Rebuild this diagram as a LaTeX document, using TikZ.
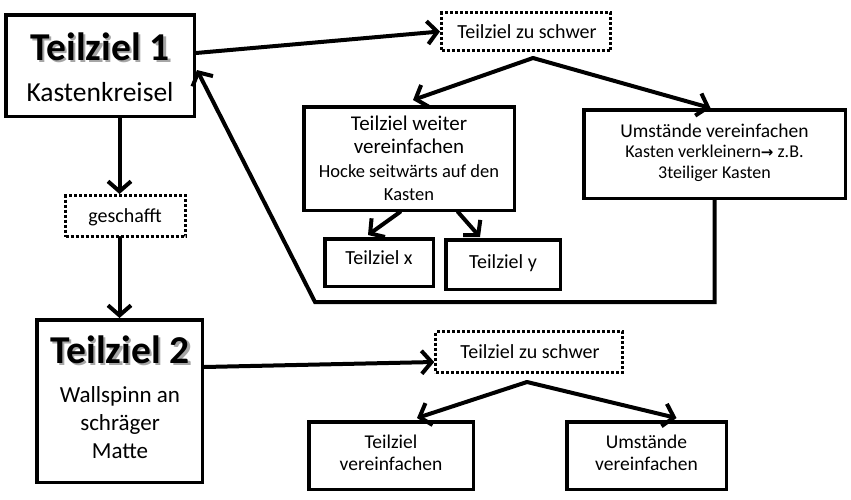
\documentclass[tikz,border=0pt]{standalone}
\usepackage{fontspec}
\setmainfont{Carlito}
\newfontfamily\dejavu{DejaVu Sans}
\usetikzlibrary{arrows.meta,calc}
\newcommand{\shadowtext}[1]{\makebox[0pt][l]{\hspace{2.5pt}\raisebox{-2.5pt}{\textcolor{black!35}{#1}}}#1}
\begin{document}
\begin{tikzpicture}[x=1pt,y=-1pt,
  box/.style={draw, line width=3.5pt, inner sep=0pt},
  dbox/.style={draw, line width=3pt, dash pattern=on 3pt off 2pt, inner sep=0pt},
  arr/.style={line width=4pt, line cap=round, -{Straight Barb[length=10pt,width=23pt]}},
  txt/.style={anchor=base, inner sep=0pt, font=\fontsize{20}{24}\selectfont},
  big/.style={anchor=base, inner sep=0pt, font=\fontsize{39.5}{46}\selectfont\bfseries}
]
\useasboundingbox (0,0) rectangle (851,499);

% boxes
\node[box, minimum width=188.5pt, minimum height=101.5pt] (t1) at (100,65.5) {};
\node[dbox, minimum width=120pt, minimum height=41pt] (gesch) at (125.5,216) {};
\node[box, minimum width=165.5pt, minimum height=162.5pt] (t2) at (119.5,401) {};
\node[dbox, minimum width=169pt, minimum height=38pt] (s1) at (526,31.5) {};
\node[box, minimum width=210.5pt, minimum height=103.5pt] (weiter) at (409,158.5) {};
\node[box, minimum width=261.5pt, minimum height=88.5pt] (umst) at (714.5,154) {};
\node[box, minimum width=108.5pt, minimum height=47.5pt] (tx) at (379,262.5) {};
\node[box, minimum width=114.5pt, minimum height=49.5pt] (ty) at (503,264.5) {};
\node[dbox, minimum width=186.5pt, minimum height=41pt] (s2) at (529,352) {};
\node[box, minimum width=164.5pt, minimum height=67.5pt] (tv) at (391,455.5) {};
\node[box, minimum width=159.5pt, minimum height=67.5pt] (uv) at (646.5,455.5) {};

% texts
\node[big] (t1a) at (100,60) {\shadowtext{Teilziel 1}};
\node[txt, font=\fontsize{27.5}{32}\selectfont] (t1b) at (100,101) {Kastenkreisel};

\node[txt] (gescht) at (125,222) {geschafft};

\node[big] (t2a) at (120,363) {\shadowtext{Teilziel 2}};
\node[txt, font=\fontsize{23}{27}\selectfont] (t2b) at (120,402) {Wallspinn an};
\node[txt, font=\fontsize{23}{27}\selectfont] (t2c) at (120,430) {schräger};
\node[txt, font=\fontsize{23}{27}\selectfont] (t2d) at (120,458) {Matte};

\node[txt] (s1t) at (527,38) {Teilziel zu schwer};

\node[txt, font=\fontsize{21}{25}\selectfont] (w1) at (409,130) {Teilziel weiter};
\node[txt, font=\fontsize{21}{25}\selectfont] (w2) at (409,153) {vereinfachen};
\node[txt, font=\fontsize{18.5}{22}\selectfont] (w3) at (409,177) {Hocke seitwärts auf den};
\node[txt, font=\fontsize{18.5}{22}\selectfont] (w4) at (409,200) {Kasten};

\node[txt, font=\fontsize{19.5}{23}\selectfont] (u1) at (714.5,137) {Umstände vereinfachen};
\node[txt, font=\fontsize{18}{22}\selectfont] (u2) at (714.5,157) {Kasten verkleinern{\dejavu\bfseries\fontsize{15}{18}\selectfont →} z.B.};
\node[txt, font=\fontsize{18}{22}\selectfont] (u3) at (714.5,178) {3teiliger Kasten};

\node[txt] (txt) at (379,264) {Teilziel x};
\node[txt] (tyt) at (503,268) {Teilziel y};

\node[txt] (s2t) at (530,358) {Teilziel zu schwer};

\node[txt, font=\fontsize{19.5}{23}\selectfont] (tv1) at (391,448) {Teilziel};
\node[txt, font=\fontsize{19.5}{23}\selectfont] (tv2) at (391,470) {vereinfachen};
\node[txt, font=\fontsize{19.5}{23}\selectfont] (uv1) at (646.5,448) {Umstände};
\node[txt, font=\fontsize{19.5}{23}\selectfont] (uv2) at (646.5,470) {vereinfachen};

% connectors
\draw[arr] (t2.north |- t1.south) -- (t2.north |- gesch.north);
\draw[arr] (t2.north |- gesch.south) -- (t2.north);
\draw[arr] ($(t1.east)+(0,-12.5)$) -- (s1.west);
\coordinate (f1) at ($(s1.south)+(7,6)$);
\draw[arr] (f1) -- ($(weiter.north)+(4,-5)$);
\draw[arr] (f1) -- ($(umst.north)+(-4,0)$);
\draw[arr] ($(weiter.south)+(-9,0)$) -- ($(tx.north)+(-11,-2)$);
\draw[arr] ($(weiter.south)+(49,0)$) -- ($(ty.north)+(-23,-1)$);
\coordinate (r1) at (315,302);
\draw[arr, line cap=butt] (umst.south) |- (r1) -- ($(t1.east)+(1,4.5)$);
\draw[arr] ($(t2.east)+(0,-34)$) -- ($(s2.west)+(0,10)$);
\coordinate (f2) at ($(s2.south)+(-2,8)$);
\draw[arr] (f2) -- ($(tv.north)+(26,-2)$);
\draw[arr] (f2) -- ($(uv.north)+(30,-2)$);
\end{tikzpicture}
\end{document}
